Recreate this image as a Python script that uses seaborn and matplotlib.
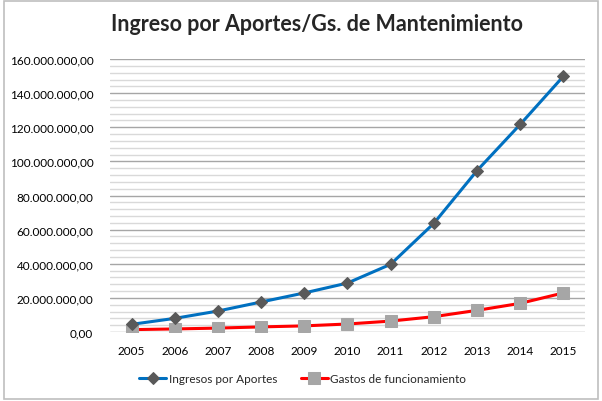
import matplotlib
matplotlib.use("Agg")
import pandas as pd
import seaborn as sns
import matplotlib.pyplot as plt
from matplotlib.ticker import FuncFormatter, MultipleLocator
from matplotlib.patches import Rectangle

# Datos
years = ["2005", "2006", "2007", "2008", "2009", "2010",
         "2011", "2012", "2013", "2014", "2015"]
ingresos = [4.5e6, 8.0e6, 12.3e6, 17.6e6, 22.9e6, 28.7e6,
            39.7e6, 63.7e6, 94.6e6, 121.7e6, 149.9e6]
gastos = [1.4e6, 1.8e6, 2.3e6, 3.0e6, 3.6e6, 4.7e6,
          6.4e6, 9.0e6, 12.7e6, 16.8e6, 22.9e6]

df = pd.DataFrame({"anio": years, "ingresos": ingresos, "gastos": gastos})

sns.set_style("white")
plt.rcParams["font.family"] = ["Lato", "DejaVu Sans"]

fig = plt.figure(figsize=(6.02, 4.02), dpi=100)
ax = fig.add_axes([0.1827, 0.1716, 0.789, 0.679])

sns.lineplot(data=df, x="anio", y="ingresos", ax=ax, color="#0070C0",
             linewidth=2.2, marker="D", markersize=6.5,
             markerfacecolor="#595959", markeredgecolor="#595959",
             label="Ingresos por Aportes", zorder=4)
sns.lineplot(data=df, x="anio", y="gastos", ax=ax, color="#FF0000",
             linewidth=2.2, marker="s", markersize=8,
             markerfacecolor="#A6A6A6", markeredgecolor="#A6A6A6",
             label="Gastos de funcionamiento", zorder=3)

ax.set_ylim(0, 160e6)
ax.set_xlim(-0.5, len(years) - 0.5)
ax.yaxis.set_major_locator(MultipleLocator(20e6))
ax.yaxis.set_minor_locator(MultipleLocator(4e6))
ax.yaxis.set_major_formatter(FuncFormatter(
    lambda v, p: f"{v:,.2f}".replace(",", "X").replace(".", ",").replace("X", ".")))
ax.grid(axis="y", which="major", color="#A6A6A6", linewidth=1.0, zorder=0)
ax.grid(axis="y", which="minor", color="#D9D9D9", linewidth=1.0, zorder=0)
ax.grid(axis="x", visible=False)
ax.set_axisbelow(True)
for s in ax.spines.values():
    s.set_visible(False)
ax.tick_params(axis="both", which="both", length=0, labelsize=8.5,
               colors="#000000")
ax.tick_params(axis="x", pad=9)
ax.tick_params(axis="y", pad=12)
ax.set_xlabel("")
ax.set_ylabel("")

fig.suptitle("Ingreso por Aportes/Gs. de Mantenimiento", x=0.527, y=0.965,
             fontsize=15.5, fontweight="bold")

ax.get_legend().remove()
handles, labels = ax.get_legend_handles_labels()
fig.legend(handles, labels, loc="center", bbox_to_anchor=(0.503, 0.055), ncol=2,
           frameon=False, fontsize=8.5, handlelength=2.3, columnspacing=2.0,
           handletextpad=0.2)

fig.patches.append(Rectangle((0.006, 0.006), 0.988, 0.988, transform=fig.transFigure,
                             fill=False, edgecolor="#BFBFBF", linewidth=1.2))

fig.savefig("out.png", dpi=100)
